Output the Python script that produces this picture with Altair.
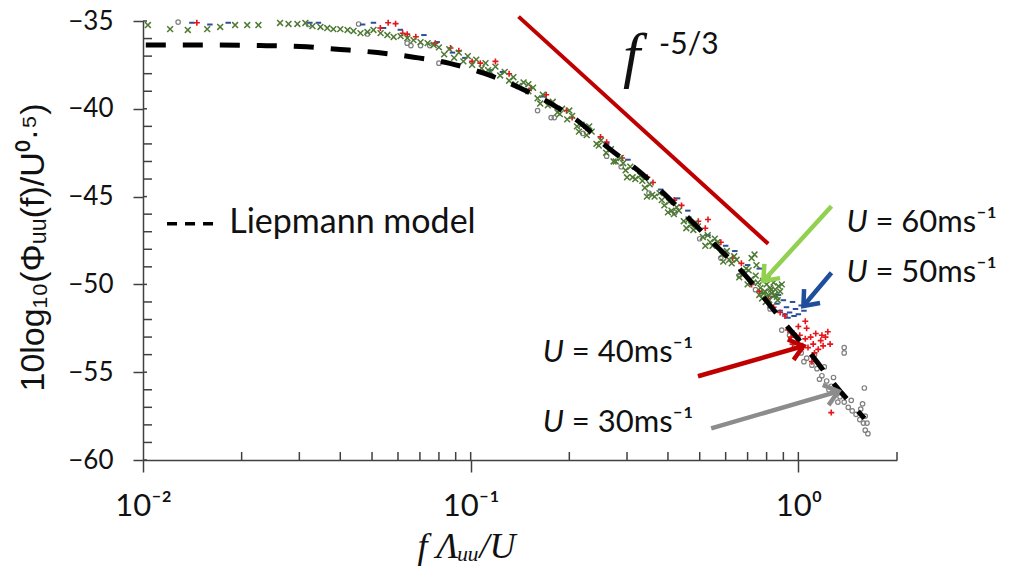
import altair as alt
import pandas as pd

# ---------------- data ----------------
# U = 60 m/s (green x)
u60_x = [0.01035, 0.0121, 0.0137, 0.0157, 0.0172, 0.0191, 0.0208, 0.0225, 0.0262, 0.0278,
         0.0296, 0.0313, 0.0329, 0.0348, 0.0365, 0.0381, 0.0400, 0.0421, 0.0439, 0.0461,
         0.0484, 0.0505, 0.0531, 0.0557, 0.0582, 0.0611, 0.0641, 0.0669, 0.0703, 0.0739, 0.0771,
         0.080, 0.083, 0.086, 0.089, 0.092, 0.095, 0.098, 0.101, 0.104, 0.108,
         0.111, 0.115, 0.119, 0.123, 0.127, 0.131, 0.135, 0.140, 0.145, 0.150,
         0.155, 0.160, 0.166, 0.172, 0.178, 0.184, 0.190, 0.197, 0.204, 0.211,
         0.218, 0.226, 0.234, 0.242, 0.250, 0.259, 0.268, 0.277, 0.287, 0.297,
         0.307, 0.318, 0.329, 0.340, 0.352, 0.364, 0.377, 0.390, 0.403, 0.417,
         0.432, 0.447, 0.462, 0.478, 0.494, 0.511, 0.529, 0.547, 0.566, 0.585,
         0.605, 0.626, 0.648, 0.670, 0.693, 0.717, 0.741, 0.766, 0.780, 0.790,
         0.800, 0.810, 0.820, 0.830, 0.840, 0.850, 0.860, 0.870, 0.880, 0.890,
         0.775, 0.795, 0.720, 0.735, 0.745, 0.150, 0.200, 0.230, 0.300, 0.345,
         0.400, 0.455, 0.520, 0.590, 0.660, 0.700, 0.760,
         0.113, 0.137, 0.163, 0.187, 0.214, 0.246, 0.273, 0.312, 0.358, 0.410,
         0.470, 0.538, 0.615, 0.682, 0.729, 0.815, 0.845, 0.865, 0.805, 0.785,
         0.292, 0.334, 0.383, 0.425, 0.486, 0.556, 0.637, 0.705, 0.752, 0.825]
u60_y = [-35.23, -35.46, -35.51, -35.46, -35.34, -35.23, -35.23, -35.23, -35.11, -35.17,
         -35.17, -35.11, -35.29, -35.34, -35.40, -35.46, -35.46, -35.51, -35.57, -35.69,
         -35.63, -35.51, -35.69, -35.80, -35.91, -35.86, -35.97, -36.09, -36.20, -36.26, -36.37,
         -36.5, -36.9, -36.6, -37.1, -36.8, -37.3, -37.0, -37.5, -37.2, -37.7,
         -37.4, -37.9, -37.6, -38.1, -37.9, -38.4, -38.2, -38.7, -38.5, -39.0,
         -38.8, -39.4, -39.2, -39.8, -39.6, -40.2, -40.0, -40.6, -40.4, -41.0,
         -40.9, -41.5, -41.3, -42.0, -41.8, -42.5, -42.3, -43.0, -42.8, -43.5,
         -43.3, -44.0, -43.8, -44.5, -44.3, -45.0, -44.8, -45.5, -45.3, -46.0,
         -45.8, -46.4, -46.3, -46.9, -46.7, -47.3, -47.2, -47.8, -47.6, -48.3,
         -48.1, -48.8, -48.6, -49.3, -49.1, -49.7, -49.5, -50.2, -49.8, -50.4,
         -50.0, -50.6, -50.2, -50.5, -49.9, -50.3, -50.7, -50.1, -50.4, -50.0,
         -50.8, -51.0, -48.5, -48.3, -48.9, -38.6, -40.1, -41.0, -43.9, -45.0,
         -45.9, -46.8, -47.8, -48.7, -49.6, -50.0, -50.6,
         -37.8, -38.6, -39.7, -40.3, -41.3, -42.1, -43.0, -43.9, -44.9, -45.8,
         -46.6, -47.6, -48.6, -49.4, -49.9, -50.9, -50.6, -50.9, -49.7, -50.5,
         -43.1, -44.1, -45.2, -45.6, -46.5, -47.4, -48.4, -49.2, -49.9, -50.3]

# U = 50 m/s (blue)
u50_x = [0.0141, 0.0160, 0.0182, 0.0323, 0.0343, 0.0468, 0.0505, 0.0542, 0.0610, 0.0720,
         0.0790, 0.0880, 0.0960, 0.1150, 0.1250, 0.1490, 0.1670, 0.1880, 0.2200, 0.2600,
         0.3020, 0.3430, 0.3800, 0.4280, 0.4600, 0.5300, 0.6000, 0.6400, 0.7000, 0.7600,
         0.80, 0.82, 0.84, 0.86, 0.88, 0.90, 0.92, 0.94, 0.96, 0.98,
         1.00, 1.02, 1.04, 0.87, 0.93, 0.78, 0.91, 0.97]
u50_y = [-35.10, -35.20, -35.10, -35.10, -35.10, -35.20, -35.10, -35.40, -35.50, -35.80,
         -36.20, -36.80, -37.10, -37.80, -37.90, -38.90, -39.30, -40.00, -40.90, -42.00,
         -42.90, -44.00, -44.60, -45.10, -45.80, -47.20, -47.80, -48.10, -48.90, -49.10,
         -50.9, -51.3, -50.7, -51.1, -51.5, -50.9, -51.3, -51.6, -51.0, -51.4,
         -51.7, -51.2, -51.5, -50.6, -51.9, -50.5, -51.7, -51.8]

# U = 40 m/s (red +)
u40_x = [0.0146, 0.0530, 0.0560, 0.0590, 0.0620, 0.0640, 0.0680, 0.0780, 0.0868, 0.0920,
         0.1010, 0.1070, 0.1190, 0.1310, 0.1530, 0.1700, 0.1960, 0.2040, 0.2250, 0.2490,
         0.2600, 0.2900, 0.3460, 0.3600, 0.4180, 0.4400, 0.4950, 0.5300, 0.5200, 0.5800,
         0.6300, 0.6700, 0.7200, 0.7600, 0.8100, 0.8400, 0.8800, 0.9100, 1.0500,
         0.93, 0.95, 0.97, 0.99, 1.01, 1.03, 1.05, 1.07, 1.09, 1.11,
         1.13, 1.15, 1.17, 1.19, 1.21, 1.23, 1.25, 1.00, 1.06, 0.96,
         1.02, 1.12, 1.18, 1.26, 1.10]
u40_y = [-35.10, -35.40, -35.10, -35.15, -35.70, -35.75, -35.90, -36.26, -36.54, -36.70,
         -37.30, -37.40, -37.30, -38.00, -38.83, -39.20, -40.10, -40.50, -41.10, -41.60,
         -41.90, -42.80, -43.90, -44.20, -45.20, -45.50, -46.40, -46.30, -46.80, -47.60,
         -48.50, -48.80, -50.00, -50.40, -50.80, -51.30, -51.60, -51.80, -52.10,
         -52.6, -53.0, -52.8, -53.3, -52.9, -53.5, -53.1, -53.6, -53.0, -53.4,
         -52.8, -53.7, -53.2, -53.5, -53.0, -52.7, -53.4, -52.4, -52.5, -53.4,
         -53.7, -53.9, -52.9, -57.3, -54.4]

# U = 30 m/s (grey o)
u30_x = [0.0128, 0.0320, 0.0455, 0.0484, 0.0640, 0.0657, 0.0703, 0.0750, 0.0800, 0.1600,
         0.1760, 0.1800, 0.2200, 0.2600, 0.2880, 0.3500, 0.4200, 0.5000, 0.5800, 0.6600,
         0.7400, 0.8200, 0.8900, 0.9400,
         0.98, 1.02, 1.06, 1.10, 1.14, 1.18, 1.22, 1.26, 1.30, 1.34,
         1.38, 1.42, 1.46, 1.50, 1.54, 1.58, 1.60, 1.57, 1.55, 1.60,
         1.38, 1.38, 1.59, 1.12, 1.20, 1.28, 1.45, 1.62, 1.63, 1.04,
         1.16, 1.24, 1.32]
u30_y = [-35.06, -35.20, -35.17, -35.74, -36.26, -36.40, -36.40, -36.40, -37.40, -40.10,
         -40.50, -40.50, -41.40, -42.70, -43.30, -44.80, -45.90, -47.40, -48.50, -49.50,
         -50.30, -51.40, -52.60, -52.90,
         -53.4, -53.9, -54.2, -54.6, -54.8, -55.2, -55.5, -55.8, -56.1, -56.4,
         -56.7, -57.0, -57.2, -57.4, -57.7, -57.9, -58.3, -56.8, -57.1, -57.5,
         -53.6, -53.9, -55.9, -54.0, -54.7, -55.3, -56.6, -57.9, -58.5, -54.4,
         -55.4, -56.0, -56.7]

# Liepmann model (dashed)
liep_x = [0.0102, 0.0149, 0.0228, 0.0302, 0.040, 0.052, 0.067, 0.0857, 0.1096, 0.142,
          0.1794, 0.217, 0.262, 0.324, 0.389, 0.461, 0.553, 0.670, 0.755, 0.906,
          1.074, 1.288, 1.592]
liep_y = [-36.37, -36.37, -36.40, -36.45, -36.62, -36.80, -37.06, -37.40, -37.97, -38.83,
          -39.80, -40.83, -42.20, -43.51, -44.83, -46.20, -47.69, -49.23, -50.37, -52.20,
          -53.80, -55.69, -57.63]

# f^-5/3 reference line
slope_x = [0.140, 0.809]
slope_y = [-34.75, -47.69]

# speed labels and arrows (data coordinates)
lab_text = ["= 60ms⁻¹", "= 50ms⁻¹", "= 40ms⁻¹", "= 30ms⁻¹"]
lab_x = [1.402, 1.402, 0.166, 0.166]
lab_y = [-46.49, -49.34, -53.91, -57.91]
arr_color = ["#92d050", "#1f4e9c", "#c00000", "#8c8c8c"]
arr_x0 = [1.262, 1.262, 0.494, 0.542]
arr_y0 = [-45.55, -49.34, -55.23, -58.20]
arr_x1 = [0.782, 1.036, 1.036, 1.325]
arr_y1 = [-49.80, -51.23, -53.51, -56.09]
arr_angle = [132, 131, 344, 344]

y_ticks = [-60, -55, -50, -45, -40, -35]
x_ticks = [0.01, 0.1, 1]
x_minor = [0.02, 0.03, 0.04, 0.05, 0.06, 0.07, 0.08, 0.09, 0.1,
           0.2, 0.3, 0.4, 0.5, 0.6, 0.7, 0.8, 0.9, 1, 2]
y_minor = [v for v in range(-59, -35) if v % 5 != 0]

# ---------------- chart ----------------
W, H = 754, 439
AX = "#404040"
TXT = "#111111"
xscale = alt.Scale(type="log", domain=[0.01, 2], nice=False)
yscale = alt.Scale(domain=[-60, -35], nice=False, zero=False)

x_axis = alt.Axis(values=x_ticks, grid=False, labelFlush=False,
                  labelExpr="datum.value == 0.01 ? '10⁻²' : (datum.value == 0.1 ? '10⁻¹' : '10⁰')",
                  labelFont="Lato", labelFontSize=31, labelColor=TXT, labelPadding=19,
                  tickSize=12, tickColor=AX, tickWidth=1.5, domainColor=AX, domainWidth=1.5,
                  title="f Λᵤᵤ/U", titleFont="Liberation Serif", titleFontStyle="italic",
                  titleFontWeight="normal", titleFontSize=36, titleColor=TXT,
                  titleX=323, titleY=86, titleAlign="center", titleBaseline="middle")
y_axis = alt.Axis(values=y_ticks, grid=False, labelFlush=False, labelFont="Lato",
                  labelFontSize=26, labelColor=TXT, labelPadding=20, tickSize=10,
                  tickColor=AX, tickWidth=1.5, domainColor=AX, domainWidth=1.5,
                  title="10log₁₀(Φᵤᵤ(f)/U⁰·⁵)", titleFont="Liberation Sans",
                  titleFontWeight="normal", titleFontSize=34, titleColor=TXT,
                  titleAngle=270, titleX=-110, titleY=226, titleAlign="center",
                  titleBaseline="middle")


def df(xs, ys):
    return pd.DataFrame({"x": xs, "y": ys})


def X(field="x:Q"):
    return alt.X(field, scale=xscale, axis=x_axis)


def Y(field="y:Q"):
    return alt.Y(field, scale=yscale, axis=y_axis)


gray = alt.Chart(df(u30_x, u30_y)).mark_point(
    shape="circle", filled=False, size=20, strokeWidth=1.2, color="#7f7f7f", opacity=1
).encode(x=X(), y=Y())
blue = alt.Chart(df(u50_x, u50_y)).mark_point(
    shape="M-1,0L1,0", filled=False, size=30, strokeWidth=2, color="#2d4f99", opacity=1
).encode(x=X(), y=Y())
red = alt.Chart(df(u40_x, u40_y)).mark_point(
    shape="M-1,0L1,0M0,-1L0,1", filled=False, size=36, strokeWidth=1.6, color="#e8141c", opacity=1
).encode(x=X(), y=Y())
green = alt.Chart(df(u60_x, u60_y)).mark_point(
    shape="M-1,-1L1,1M-1,1L1,-1", filled=False, size=34, strokeWidth=1.5, color="#4e7a34", opacity=1
).encode(x=X(), y=Y())

liep = alt.Chart(df(liep_x, liep_y)).mark_line(
    color="black", strokeWidth=5, strokeDash=[20, 17], interpolate="monotone"
).encode(x=X(), y=Y())

slope = alt.Chart(df(slope_x, slope_y)).mark_line(
    color="#c00000", strokeWidth=4, clip=False
).encode(x=X(), y=Y())

arr_df = pd.DataFrame({"x": arr_x0, "y": arr_y0, "x2": arr_x1, "y2": arr_y1,
                       "c": arr_color, "a": arr_angle})
arr_lines = alt.Chart(arr_df).mark_rule(strokeWidth=4.5).encode(
    x=X(), y=Y(), x2="x2:Q", y2="y2:Q", color=alt.Color("c:N", scale=None))
arr_heads = alt.Chart(arr_df).mark_point(
    shape="M-1,-0.8L0,0L-1,0.8", filled=False, size=700, strokeWidth=4.5, opacity=1,
    strokeJoin="miter"
).encode(x=X("x2:Q"), y=Y("y2:Q"),
         color=alt.Color("c:N", scale=None), angle=alt.Angle("a:Q", scale=None))

lab_df = pd.DataFrame({"x": lab_x, "y": lab_y, "t": lab_text})
lab_u = alt.Chart(lab_df).mark_text(
    text="U", font="Lato", fontStyle="italic", fontSize=31, align="left", baseline="middle",
    color=TXT
).encode(x=X(), y=Y())
lab_rest = alt.Chart(lab_df).mark_text(
    font="Lato", fontSize=31, align="left", baseline="middle", dx=29, color=TXT
).encode(x=X(), y=Y(), text="t:N")

f_text = alt.Chart(df([0.2917], [-37.06])).mark_text(
    text="f", font="Liberation Serif", fontStyle="italic", fontSize=62, align="left",
    baseline="middle", color=TXT
).encode(x=X(), y=Y())
f_exp = alt.Chart(df([0.3758], [-36.37])).mark_text(
    text="-5/3", font="Lato", fontSize=30, align="left", baseline="middle", color=TXT
).encode(x=X(), y=Y())

leg_line = alt.Chart(pd.DataFrame({"x": [0.01184], "x2": [0.0166], "y": [-46.55]})).mark_rule(
    color="black", strokeWidth=3.5, strokeDash=[10, 8]
).encode(x=X(), x2="x2:Q", y=Y())
leg_text = alt.Chart(df([0.01833], [-46.49])).mark_text(
    text="Liepmann model", font="Lato", fontSize=34, align="left", baseline="middle", color=TXT
).encode(x=X(), y=Y())

xminor = alt.Chart(pd.DataFrame({"x": x_minor})).mark_rule(color=AX, strokeWidth=1.5).encode(
    x=X(), y=alt.value(H - 8), y2=alt.value(H))
yminor = alt.Chart(pd.DataFrame({"y": y_minor})).mark_rule(color=AX, strokeWidth=1.5).encode(
    y=Y(), x=alt.value(0), x2=alt.value(9))
ymajor_in = alt.Chart(pd.DataFrame({"y": y_ticks})).mark_rule(color=AX, strokeWidth=1.5).encode(
    y=Y(), x=alt.value(0), x2=alt.value(4))

chart = alt.layer(
    gray, xminor, yminor, ymajor_in, blue, red, green, liep, slope,
    arr_lines, arr_heads, lab_u, lab_rest, f_text, f_exp, leg_line, leg_text
).properties(
    width=W, height=H,
    autosize=alt.AutoSizeParams(type="none"),
    padding={"left": 143, "top": 21, "right": 112, "bottom": 107},
    background="white"
).configure_view(stroke=None)

chart.save("out.html", embed_options={"renderer": "svg", "actions": False})
